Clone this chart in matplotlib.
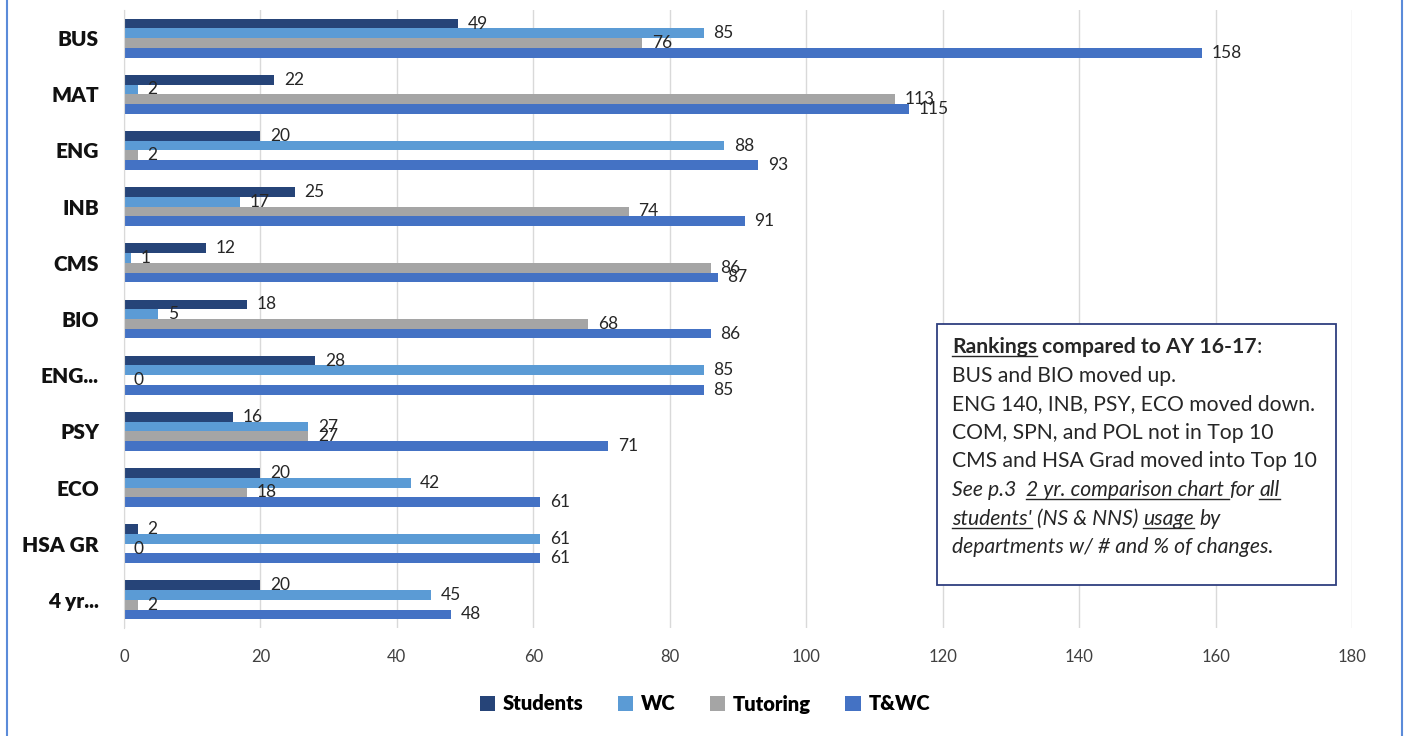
import matplotlib.pyplot as plt
from matplotlib.patches import Rectangle
from matplotlib.lines import Line2D
import numpy as np

plt.rcParams['font.family'] = ['Lato', 'DejaVu Sans']

departments = ['BUS', 'MAT', 'ENG', 'INB', 'CMS', 'BIO', 'ENG...', 'PSY', 'ECO', 'HSA GR', '4 yr...']
students = [49, 22, 20, 25, 12, 18, 28, 16, 20, 2, 20]
wc = [85, 2, 88, 17, 1, 5, 85, 27, 42, 61, 45]
tutoring = [76, 113, 2, 74, 86, 68, 0, 27, 18, 0, 2]
twc = [158, 115, 93, 91, 87, 86, 85, 71, 61, 61, 48]
series_names = ['Students', 'WC', 'Tutoring', 'T&WC']
colors = ['#264478', '#5B9BD5', '#A5A5A5', '#4472C4']

W, H = 1408, 736
fig = plt.figure(figsize=(W / 100, H / 100), dpi=100)


def fx(px):
    return px / W


def fy(py):
    return 1 - py / H


ax = fig.add_axes([fx(124), fy(628), (1352 - 124) / W, (628 - 10) / H])

y = np.arange(len(departments))
bh = 0.173
for i, (name, vals, c) in enumerate(zip(series_names, [students, wc, tutoring, twc], colors)):
    bars = ax.barh(y + (i - 1.5) * bh, vals, height=bh, color=c, label=name)
    ax.bar_label(bars, labels=[str(v) for v in vals], padding=7, fontsize=12.5, color='#262626')

ax.set_ylim(len(departments) - 0.5, -0.5)
ax.set_xlim(0, 180)
ax.set_xticks(range(0, 181, 20))
ax.set_yticks(y)
ax.set_yticklabels(departments, fontsize=15, fontweight='heavy', color='#111111')
ax.grid(axis='x', color='#D9D9D9', lw=1)
ax.set_axisbelow(True)
for s in ['top', 'right', 'bottom']:
    ax.spines[s].set_visible(False)
ax.spines['left'].set_color('#D9D9D9')
ax.tick_params(axis='y', length=0, pad=18)
ax.tick_params(axis='x', length=0, pad=15, labelsize=12, labelcolor='#404040')

fig.legend(loc='center', bbox_to_anchor=(fx(705), fy(704)), ncol=4, frameon=False,
           prop={'weight': 'heavy', 'size': 14.5}, handlelength=0.75, handleheight=0.75,
           columnspacing=1.7, handletextpad=0.4)

# window edges
for xp in [7, 1402]:
    fig.add_artist(Line2D([fx(xp)] * 2, [0, 1], transform=fig.transFigure, color='#5B8BD9', lw=1.5))

# annotation box
fig.add_artist(Rectangle((fx(937), fy(585)), (1336 - 937) / W, (585 - 324) / H,
                         transform=fig.transFigure, fill=True, facecolor='white',
                         edgecolor='#2F3F7F', lw=1.3))

renderer = fig.canvas.get_renderer()
box_size = 15.2
txt_color = '#262626'


def text_width(s, **kw):
    t = fig.text(0, 0, s, fontsize=box_size, **kw)
    w = t.get_window_extent(renderer).width
    t.remove()
    return w


def draw_runs(x0, ybase, runs):
    x = x0
    for text, bold, italic, under in runs:
        kw = dict(fontweight='bold' if bold else 'normal', fontstyle='italic' if italic else 'normal')
        sp = text_width('x x', **kw) - text_width('xx', **kw)
        lead = len(text) - len(text.lstrip(' '))
        x += lead * sp
        core = text.strip(' ')
        trail = len(text.lstrip(' ')) - len(core)
        t = fig.text(fx(x), fy(ybase), core, fontsize=box_size, va='baseline', ha='left',
                     color=txt_color, **kw)
        bb = t.get_window_extent(renderer)
        w = bb.x1 - x + trail * sp
        if under:
            fig.add_artist(Line2D([fx(x), fx(x + w)], [fy(ybase + 3)] * 2,
                                  transform=fig.transFigure, color=txt_color, lw=1))
        x += w


box_lines = [
    [('Rankings', True, False, True), (' compared to AY 16-17', True, False, False), (':', False, False, False)],
    [('BUS and BIO moved up.', False, False, False)],
    [('ENG 140, INB, PSY, ECO moved down.', False, False, False)],
    [('COM, SPN, and POL not in Top 10', False, False, False)],
    [('CMS and HSA Grad moved into Top 10', False, False, False)],
    [('See p.3  ', False, True, False), ('2 yr. comparison chart ', False, True, True),
     ('for ', False, True, False), ('all', False, True, True)],
    [('students\'', False, True, True), (' (NS & NNS) ', False, True, False),
     ('usage', False, True, True), (' by', False, True, False)],
    [('departments w/ # and % of changes.', False, True, False)],
]

baseline = 353
for line in box_lines:
    draw_runs(952, baseline, line)
    baseline += 28.6

fig.savefig('out.png', dpi=100)
